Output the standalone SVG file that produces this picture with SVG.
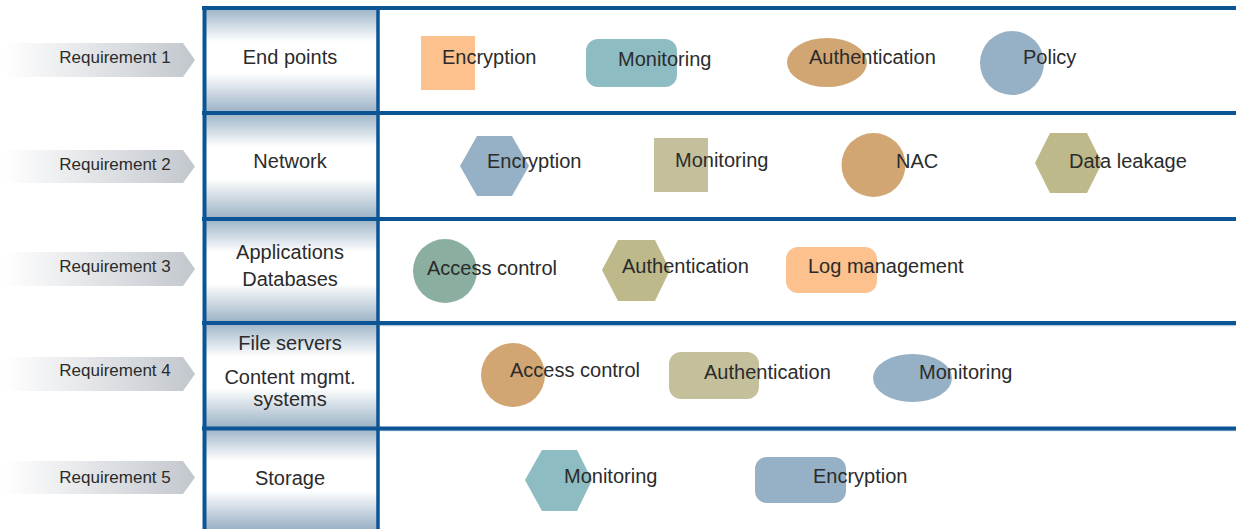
<svg xmlns="http://www.w3.org/2000/svg" width="1236" height="529" viewBox="0 0 1236 529">
  <defs>
    <linearGradient id="reqFill" x1="0" y1="0" x2="1" y2="0">
      <stop offset="0" stop-color="#ffffff"/>
      <stop offset="1" stop-color="#c2c7cd"/>
    </linearGradient>
    <linearGradient id="cellFill" x1="0" y1="0" x2="0" y2="1">
      <stop offset="0" stop-color="#9cb3c7"/>
      <stop offset="0.32" stop-color="#ffffff"/>
      <stop offset="0.62" stop-color="#ffffff"/>
      <stop offset="1" stop-color="#9ab1c5"/>
    </linearGradient>
    <style>
      text { font-family: "Liberation Sans", Arial, sans-serif; fill: #2b2b2b; }
      .req { font-size: 17px; text-anchor: middle; }
      .cell { font-size: 20px; text-anchor: middle; }
      .lbl { font-size: 20px; }
      .frame { stroke: #0c5594; stroke-width: 4; fill: none; }
      .shade { stroke: #b3cbe0; stroke-width: 1.2; fill: none; }
      .peach { fill: #fcc18c; }
      .teal { fill: #8dbcc2; }
      .tan { fill: #d2a673; }
      .blue { fill: #96b1c5; }
      .olive { fill: #bdb98a; }
      .khaki { fill: #c4c09b; }
      .sage { fill: #8aafa0; }
    </style>
  </defs>

  <rect width="1236" height="529" fill="#ffffff"/>

  <!-- requirement arrows -->
  <g id="req1"><polygon points="3,43 183,43 195,60 183,77 3,77" fill="url(#reqFill)"/><text class="req" x="115" y="63">Requirement 1</text></g>
  <g id="req2"><polygon points="3,150 183,150 195,166.5 183,183 3,183" fill="url(#reqFill)"/><text class="req" x="115" y="170">Requirement 2</text></g>
  <g id="req3"><polygon points="3,252 183,252 195,269 183,286 3,286" fill="url(#reqFill)"/><text class="req" x="115" y="272">Requirement 3</text></g>
  <g id="req4"><polygon points="3,357 183,357 195,374 183,391 3,391" fill="url(#reqFill)"/><text class="req" x="115" y="376">Requirement 4</text></g>
  <g id="req5"><polygon points="3,461 183,461 195,477.5 183,494 3,494" fill="url(#reqFill)"/><text class="req" x="115" y="483">Requirement 5</text></g>

  <!-- layer column -->
  <g id="cell-endpoints"><rect x="204" y="8" width="174" height="105" fill="url(#cellFill)"/><text class="cell" x="290" y="64">End points</text></g>
  <g id="cell-network"><rect x="204" y="113" width="174" height="106" fill="url(#cellFill)"/><text class="cell" x="290" y="168">Network</text></g>
  <g id="cell-apps"><rect x="204" y="219" width="174" height="104" fill="url(#cellFill)"/><text class="cell" x="290" y="259">Applications</text><text class="cell" x="290" y="286">Databases</text></g>
  <g id="cell-files"><rect x="204" y="323" width="174" height="105" fill="url(#cellFill)"/><text class="cell" x="290" y="350">File servers</text><text class="cell" x="290" y="384">Content mgmt.</text><text class="cell" x="290" y="406">systems</text></g>
  <g id="cell-storage"><rect x="204" y="428" width="174" height="101" fill="url(#cellFill)"/><text class="cell" x="290" y="485">Storage</text></g>

  <!-- grid lines -->
  <g id="frame">
    <line class="shade" x1="380" y1="325.6" x2="1236" y2="325.6"/>
    <line class="shade" x1="380" y1="430.6" x2="1236" y2="430.6"/>
    <line class="frame" x1="202" y1="8" x2="1236" y2="8"/>
    <line class="frame" x1="202" y1="113" x2="1236" y2="113"/>
    <line class="frame" x1="202" y1="219" x2="1236" y2="219"/>
    <line class="frame" x1="202" y1="323" x2="1236" y2="323"/>
    <line class="frame" x1="202" y1="428.5" x2="1236" y2="428.5"/>
    <line class="frame" x1="204.5" y1="6" x2="204.5" y2="529"/>
    <line class="frame" x1="378" y1="6" x2="378" y2="529" style="stroke-width:3.5"/>
  </g>

  <!-- row 1: end points -->
  <g id="r1-encryption"><rect class="peach" x="421" y="36" width="54" height="54"/><text class="lbl" x="442" y="64">Encryption</text></g>
  <g id="r1-monitoring"><rect class="teal" x="586" y="39" width="91" height="48" rx="12"/><text class="lbl" x="618" y="66">Monitoring</text></g>
  <g id="r1-authentication"><ellipse class="tan" cx="827" cy="62.5" rx="40" ry="24.5"/><text class="lbl" x="809" y="64">Authentication</text></g>
  <g id="r1-policy"><circle class="blue" cx="1012" cy="63" r="32"/><text class="lbl" x="1023" y="64">Policy</text></g>

  <!-- row 2: network -->
  <g id="r2-encryption"><polygon class="blue" points="460,166 477,136 512,136 529,166 512,196 477,196"/><text class="lbl" x="487" y="168">Encryption</text></g>
  <g id="r2-monitoring"><rect class="khaki" x="654" y="138" width="54" height="54"/><text class="lbl" x="675" y="167">Monitoring</text></g>
  <g id="r2-nac"><circle class="tan" cx="873.5" cy="165" r="32"/><text class="lbl" x="896" y="168">NAC</text></g>
  <g id="r2-dataleakage"><polygon class="olive" points="1035,163 1050,133 1087,133 1102,163 1087,193 1050,193"/><text class="lbl" x="1069" y="168">Data leakage</text></g>

  <!-- row 3: applications / databases -->
  <g id="r3-accesscontrol"><circle class="sage" cx="445" cy="271" r="32"/><text class="lbl" x="427" y="275">Access control</text></g>
  <g id="r3-authentication"><polygon class="olive" points="602,270 618,240 655,240 670,270 655,301 618,301"/><text class="lbl" x="622" y="273">Authentication</text></g>
  <g id="r3-logmanagement"><rect class="peach" x="786" y="247" width="91" height="46" rx="12"/><text class="lbl" x="808" y="273">Log management</text></g>

  <!-- row 4: file servers / content management -->
  <g id="r4-accesscontrol"><circle class="tan" cx="513" cy="375" r="32"/><text class="lbl" x="510" y="377">Access control</text></g>
  <g id="r4-authentication"><rect class="khaki" x="669" y="352" width="90" height="47" rx="12"/><text class="lbl" x="704" y="379">Authentication</text></g>
  <g id="r4-monitoring"><ellipse class="blue" cx="912.5" cy="378" rx="39.5" ry="24"/><text class="lbl" x="919" y="379">Monitoring</text></g>

  <!-- row 5: storage -->
  <g id="r5-monitoring"><polygon class="teal" points="525,480 542,450 577,450 592,480 577,511 542,511"/><text class="lbl" x="564" y="483">Monitoring</text></g>
  <g id="r5-encryption"><rect class="blue" x="755" y="457" width="91" height="46" rx="12"/><text class="lbl" x="813" y="483">Encryption</text></g>
</svg>
